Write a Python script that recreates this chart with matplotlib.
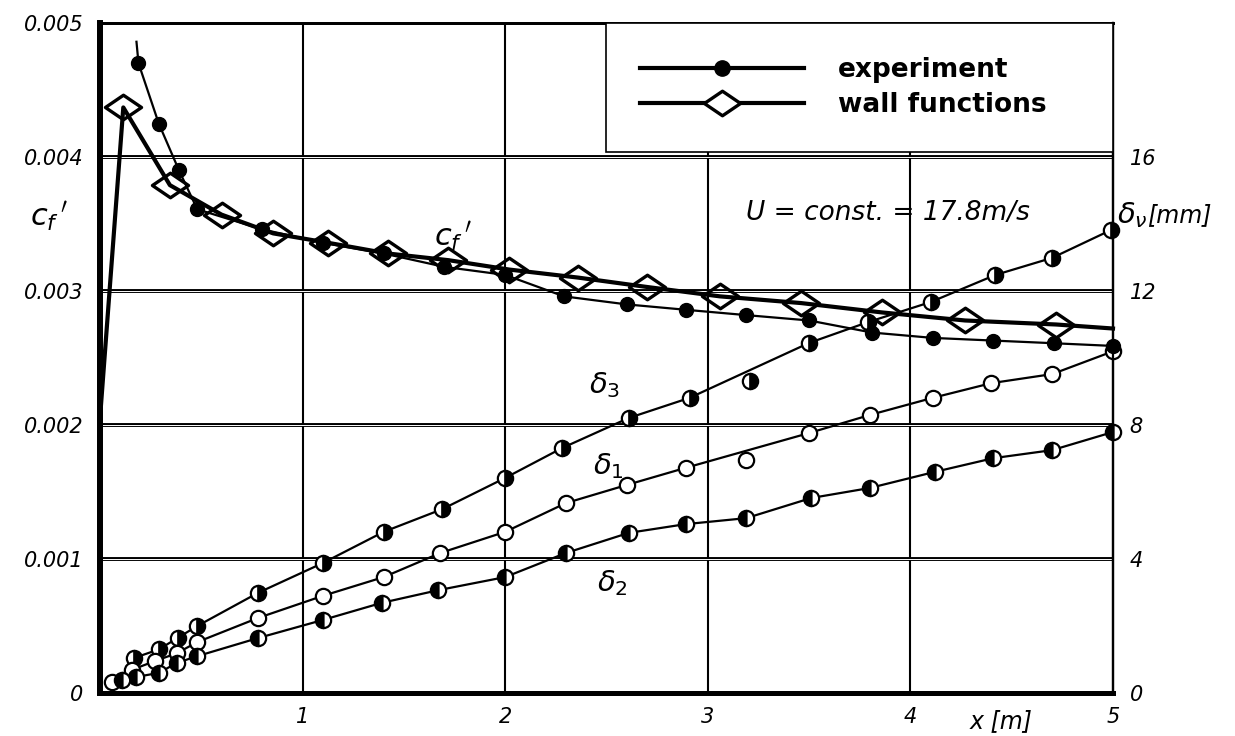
import matplotlib
matplotlib.use('Agg')
import matplotlib.pyplot as plt
from matplotlib.path import Path

# ---------------- data ----------------
# skin friction coefficient c_f' (left axis)
exp_x = [0.19, 0.29, 0.39, 0.48, 0.80, 1.10, 1.40, 1.70, 2.00, 2.29, 2.60, 2.89, 3.19,
         3.50, 3.81, 4.11, 4.41, 4.71, 5.00]
exp_cf = [0.00470, 0.00425, 0.00390, 0.00361, 0.00346, 0.00336, 0.00328, 0.00318, 0.00312,
          0.00296, 0.00290, 0.00286, 0.00282, 0.00278, 0.00269, 0.00265, 0.00263, 0.00261,
          0.00259]
exp_curve_start_x = [0.18]
exp_curve_start_cf = [0.00486]

wall_x = [0.00, 0.115, 0.345, 0.60, 0.855, 1.125, 1.42, 1.72, 2.02, 2.36, 2.70, 3.06, 3.46,
          3.86, 4.27, 4.72, 5.00]
wall_cf = [0.00205, 0.00437, 0.00379, 0.00357, 0.00343, 0.00336, 0.00328, 0.00323, 0.00316,
           0.00310, 0.00303, 0.00296, 0.00291, 0.00284, 0.00278, 0.00275, 0.00272]

# boundary-layer thicknesses delta [mm] (right axis)
d3_x = [0.17, 0.29, 0.385, 0.48, 0.78, 1.10, 1.40, 1.69, 2.00, 2.28, 2.61, 2.91, 3.21, 3.50,
        3.79, 4.10, 4.42, 4.70, 4.99]
d3_mm = [1.05, 1.30, 1.65, 2.00, 2.99, 3.88, 4.81, 5.49, 6.42, 7.31, 8.21, 8.81, 9.31, 10.45,
         11.07, 11.67, 12.48, 12.99, 13.82]
d3_off_curve = [12]

d1_x = [0.06, 0.16, 0.27, 0.38, 0.48, 0.78, 1.10, 1.40, 1.68, 2.00, 2.30, 2.60, 2.89, 3.19,
        3.50, 3.80, 4.11, 4.40, 4.70, 5.00]
d1_mm = [0.33, 0.70, 0.95, 1.19, 1.52, 2.24, 2.90, 3.46, 4.18, 4.81, 5.67, 6.21, 6.72, 6.96,
         7.76, 8.30, 8.81, 9.25, 9.52, 10.20]
d1_off_curve = [13]

d2_x = [0.11, 0.18, 0.29, 0.38, 0.48, 0.78, 1.10, 1.39, 1.67, 2.00, 2.30, 2.61, 2.89, 3.19,
        3.51, 3.80, 4.12, 4.41, 4.70, 5.00]
d2_mm = [0.39, 0.48, 0.60, 0.90, 1.10, 1.64, 2.18, 2.69, 3.07, 3.46, 4.18, 4.78, 5.04, 5.22,
         5.82, 6.12, 6.60, 7.01, 7.25, 7.79]
d2_off_curve = []

x_ticks = [1, 2, 3, 4, 5]
x_ticklabels = ['1', '2', '3', '4', '5']
cf_ticks = [0, 0.001, 0.002, 0.003, 0.004, 0.005]
cf_ticklabels = ['0', '0.001', '0.002', '0.003', '0.004', '0.005']
mm_ticks = [0, 4, 8, 12, 16]
mm_ticklabels = ['0', '4', '8', '12', '16']
grid_mm = [4, 8, 12, 16]

legend_labels = ['experiment', 'wall functions']

# ---------------- style ----------------
plt.rcParams['font.family'] = ['DejaVu Sans']
plt.rcParams['mathtext.fontset'] = 'dejavusans'

fig = plt.figure(figsize=(12.35, 7.36), dpi=100)
fig.patch.set_facecolor('white')
pos = [100 / 1235, 43 / 736, 1013 / 1235, 670 / 736]
axd = fig.add_axes(pos)
ax = axd.twinx()
axd.set_position(pos)
ax.set_position(pos)

# axd = delta axis (bottom layer, with grid), ax = cf axis (top layer)
ax.set_zorder(axd.get_zorder() + 1)
ax.patch.set_visible(False)

axd.set_xlim(0, 5)
axd.set_ylim(0, 20)
ax.set_ylim(0, 0.005)

# grid (drawn on delta axis)
for xv in x_ticks[:-1]:
    axd.axvline(xv, color='black', lw=1.5, zorder=0)
for yv in grid_mm:
    axd.axhline(yv, color='black', lw=2.8, zorder=0)
    axd.axhline(yv, color='white', lw=0.7, zorder=0.1)


def draw_delta(xs, ys, off, mfc, mfcalt, fs):
    cx = [x for i, x in enumerate(xs) if i not in off]
    cy = [y for i, y in enumerate(ys) if i not in off]
    axd.plot(cx, cy, color='black', lw=1.6, zorder=2)
    axd.plot(xs, ys, ls='none', marker='o', ms=11, mec='black', mew=1.6,
             mfc=mfc, markerfacecoloralt=mfcalt, fillstyle=fs, zorder=3, clip_on=False)


draw_delta(d3_x, d3_mm, d3_off_curve, 'white', 'black', 'left')
draw_delta(d1_x, d1_mm, d1_off_curve, 'white', 'white', 'full')
draw_delta(d2_x, d2_mm, d2_off_curve, 'black', 'white', 'left')

# cf curves
ax.plot(exp_curve_start_x + exp_x, exp_curve_start_cf + exp_cf, color='black', lw=1.6,
        zorder=4, clip_on=False)
ax.plot(exp_x, exp_cf, ls='none', marker='o', ms=10, mfc='black',
        mec='black', zorder=5, clip_on=False)

diamond = Path([(-1, 0), (0, 0.68), (1, 0), (0, -0.68), (-1, 0)],
               [Path.MOVETO, Path.LINETO, Path.LINETO, Path.LINETO, Path.CLOSEPOLY])
ax.plot(wall_x, wall_cf, color='black', lw=3.0, zorder=6, clip_on=False)
ax.plot(wall_x[1:-1], wall_cf[1:-1], ls='none', marker=diamond, ms=26, mfc='none',
        mec='black', mew=2.4, zorder=7, clip_on=False)

# legend proxies
h_exp, = ax.plot([], [], color='black', lw=3.0, marker='o', ms=11, mfc='black', mec='black')
h_wall, = ax.plot([], [], color='black', lw=3.0, marker=diamond, ms=26, mfc='white',
                  mec='black', mew=2.4)
leg = ax.legend([h_exp, h_wall], legend_labels, loc='upper left',
                bbox_to_anchor=(0.4995, 0.0, 0.5005, 1.0), mode='expand',
                borderaxespad=0, frameon=True, fancybox=False, numpoints=1,
                handlelength=6.2, handletextpad=1.3, borderpad=1.3, labelspacing=0.32,
                prop={'weight': 'bold', 'size': 19})
leg.get_frame().set_edgecolor('black')
leg.get_frame().set_linewidth(1.2)
leg.get_frame().set_alpha(1)
leg.set_zorder(20)

# axes, ticks
tick_font = {'style': 'italic', 'size': 15}
axd.set_xticks(x_ticks)
axd.set_xticklabels(x_ticklabels, **tick_font)
ax.yaxis.tick_left()
ax.set_yticks(cf_ticks)
ax.set_yticklabels(cf_ticklabels, **tick_font)
axd.yaxis.tick_right()
axd.set_yticks(mm_ticks)
axd.set_yticklabels(mm_ticklabels, **tick_font)
ax.tick_params(axis='both', length=0, pad=12)
axd.tick_params(axis='both', length=0, pad=12)
axd.tick_params(axis='x', pad=10)
ax.xaxis.set_visible(False)

for a in (ax, axd):
    a.spines['left'].set_linewidth(4.2)
    a.spines['bottom'].set_linewidth(3.6)
    a.spines['top'].set_linewidth(2.0)
    a.spines['right'].set_linewidth(1.6)

# annotations
fig.text(0.040, 0.705, "$c_{f}\\,'$", fontsize=22, ha='center', va='center')
ax.text(1.74, 0.00340, "$c_{f}\\,'$", fontsize=22, ha='center', va='center')
ax.text(3.19, 0.00358, 'U = const. = 17.8m/s', fontsize=19, style='italic',
        ha='left', va='center')
ax.text(2.49, 0.00230, '$\\delta_3$', fontsize=21, ha='center', va='center')
ax.text(2.51, 0.00169, '$\\delta_1$', fontsize=21, ha='center', va='center')
ax.text(2.53, 0.00082, '$\\delta_2$', fontsize=21, ha='center', va='center')
ax.text(5.02, 0.00357, '$\\delta_{\\nu}$', fontsize=21, ha='left', va='center', clip_on=False)
ax.text(5.17, 0.00357, '[mm]', fontsize=17, style='italic', ha='left', va='center',
        clip_on=False)
ax.text(4.45, -0.00021, 'x [m]', fontsize=17, style='italic', ha='center', va='center',
        clip_on=False)

fig.savefig('out.png', dpi=100, facecolor='white')
